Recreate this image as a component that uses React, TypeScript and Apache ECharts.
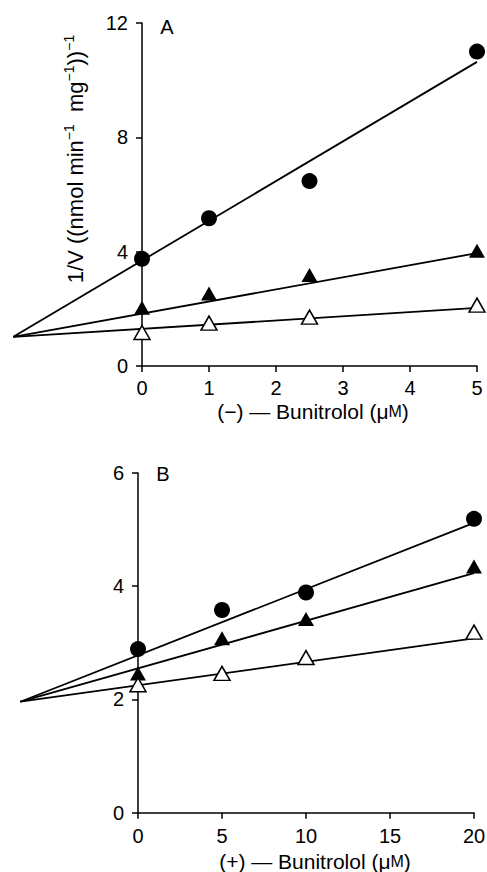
import React, { useEffect, useRef } from "react";
import * as echarts from "echarts";

const FONT = '"Liberation Sans", Arial, Helvetica, sans-serif';

// Panel A: (−)-Bunitrolol
const xA = [0, 1, 2.5, 5];
const aCircles = [3.75, 5.17, 6.47, 11.0];
const aFilledTri = [2.04, 2.54, 3.18, 4.03];
const aOpenTri = [1.17, 1.5, 1.71, 2.13];
const aIntersect = [-1.92, 1.02];
const aLineEnds = [10.64, 3.95, 2.03]; // fitted values at x = 5

// Panel B: (+)-Bunitrolol
const xB = [0, 5, 10, 20];
const bCircles = [2.89, 3.58, 3.89, 5.19];
const bFilledTri = [2.46, 3.08, 3.42, 4.35];
const bOpenTri = [2.26, 2.46, 2.74, 3.19];
const bIntersect = [-7.0, 1.96];
const bLineEnds = [5.12, 4.23, 3.08]; // fitted values at x = 20

const pairs = (xs: number[], ys: number[]) => xs.map((x, i) => [x, ys[i]]);

function buildOption() {
  const black = "#000";
  const xAxis = (gi: number, max: number, interval: number, margin: number) => ({
    gridIndex: gi,
    type: "value",
    min: 0,
    max,
    interval,
    axisLine: { show: true, onZero: false, lineStyle: { color: black, width: 1.5 } },
    splitLine: { show: false },
    axisTick: { show: true, length: 6, lineStyle: { color: black, width: 1.5 } },
    axisLabel: { color: black, fontSize: 20, fontFamily: FONT, margin },
  });
  const yAxis = (gi: number, max: number, interval: number) => ({
    gridIndex: gi,
    type: "value",
    min: 0,
    max,
    interval,
    axisLine: { show: true, onZero: false, lineStyle: { color: black, width: 1.5 } },
    splitLine: { show: false },
    axisTick: { show: true, length: 6, lineStyle: { color: black, width: 1.5 } },
    axisLabel: { color: black, fontSize: 20, fontFamily: FONT, margin: 14 },
  });
  const hiddenX = (gi: number, min: number, max: number) => ({
    gridIndex: gi,
    type: "value",
    min,
    max,
    show: false,
  });
  const hiddenY = (gi: number, max: number) => ({
    gridIndex: gi,
    type: "value",
    min: 0,
    max,
    show: false,
  });

  const series: any[] = [];
  const addPanel = (
    gi: number,
    lineGi: number,
    xs: number[],
    circles: number[],
    filled: number[],
    open: number[],
    inter: number[],
    ends: number[],
    xMax: number
  ) => {
    ends.forEach((e) => {
      series.push({
        type: "line",
        xAxisIndex: lineGi,
        yAxisIndex: lineGi,
        data: [inter, [xMax, e]],
        symbol: "none",
        silent: true,
        clip: false,
        lineStyle: { color: black, width: 1.8, opacity: 1 },
        z: 2,
      });
    });
    series.push({
      type: "scatter",
      xAxisIndex: gi,
      yAxisIndex: gi,
      data: pairs(xs, circles),
      symbol: "circle",
      symbolSize: 16,
      clip: false,
      itemStyle: { color: black, opacity: 1 },
      z: 3,
    });
    series.push({
      type: "scatter",
      xAxisIndex: gi,
      yAxisIndex: gi,
      data: pairs(xs, filled),
      symbol: "triangle",
      symbolSize: [16, 14],
      clip: false,
      itemStyle: { color: black, opacity: 1 },
      z: 3,
    });
    series.push({
      type: "scatter",
      xAxisIndex: gi,
      yAxisIndex: gi,
      data: pairs(xs, open),
      symbol: "triangle",
      symbolSize: [16, 14],
      clip: false,
      itemStyle: { color: "#fff", borderColor: black, borderWidth: 1.5, opacity: 1 },
      z: 3,
    });
  };
  // grids 0,1: visible axes; grids 2,3: hidden wide axes for the fitted lines
  addPanel(0, 2, xA, aCircles, aFilledTri, aOpenTri, aIntersect, aLineEnds, 5);
  addPanel(1, 3, xB, bCircles, bFilledTri, bOpenTri, bIntersect, bLineEnds, 20);

  const richUnits = {
    n: { fontSize: 21, fontFamily: FONT, fill: black },
    sc: { fontSize: 16, fontFamily: FONT, fill: black },
  };

  // pixel scale: A 67 px per unit, B 16.8 px per unit
  const aLeft = 142;
  const aWidth = 335;
  const aWideLeft = aLeft + (aIntersect[0] * aWidth) / 5;
  const bLeft = 138;
  const bWidth = 336;
  const bWideLeft = bLeft + (bIntersect[0] * bWidth) / 20;

  const g = { outerBoundsMode: "none", containLabel: false };

  return {
    animation: false,
    backgroundColor: "#fff",
    grid: [
      { left: aLeft, top: 23, width: aWidth, height: 343, ...g },
      { left: bLeft, top: 473, width: bWidth, height: 339.7, ...g },
      { left: aWideLeft, top: 23, width: aLeft + aWidth - aWideLeft, height: 343, ...g },
      { left: bWideLeft, top: 473, width: bLeft + bWidth - bWideLeft, height: 339.7, ...g },
    ],
    xAxis: [
      xAxis(0, 5, 1, 12),
      xAxis(1, 20, 5, 13),
      hiddenX(2, aIntersect[0], 5),
      hiddenX(3, bIntersect[0], 20),
    ],
    yAxis: [yAxis(0, 12, 4), yAxis(1, 6, 2), hiddenY(2, 12), hiddenY(3, 6)],
    series,
    graphic: [
      {
        type: "text",
        x: 167,
        y: 27,
        style: { text: "A", fontSize: 20, fontFamily: FONT, fill: black, align: "center", verticalAlign: "middle" },
      },
      {
        type: "text",
        x: 163,
        y: 474,
        style: { text: "B", fontSize: 20, fontFamily: FONT, fill: black, align: "center", verticalAlign: "middle" },
      },
      {
        type: "text",
        x: 313,
        y: 411,
        style: {
          text: "{n|(−) — Bunitrolol (μ}{sc|M}{n|)}",
          rich: richUnits,
          fontSize: 21,
          fontFamily: FONT,
          fill: black,
          align: "center",
          verticalAlign: "middle",
        },
      },
      {
        type: "text",
        x: 315,
        y: 861,
        style: {
          text: "{n|(+) — Bunitrolol (μ}{sc|M}{n|)}",
          rich: richUnits,
          fontSize: 21,
          fontFamily: FONT,
          fill: black,
          align: "center",
          verticalAlign: "middle",
        },
      },
      {
        type: "text",
        x: 74,
        y: 159,
        rotation: Math.PI / 2,
        style: {
          text: "{n|1/V ((nmol min}{s|−1}{n|  mg}{s|−1}{n|))}{s|−1}",
          rich: {
            n: { fontSize: 22, fontFamily: FONT, fill: black, verticalAlign: "bottom", lineHeight: 25 },
            s: { fontSize: 14, fontFamily: FONT, fill: black, verticalAlign: "top", lineHeight: 25 },
          },
          fontSize: 22,
          fontFamily: FONT,
          fill: black,
          align: "center",
          verticalAlign: "middle",
        },
      },
    ],
  };
}

export default function App() {
  const ref = useRef<HTMLDivElement>(null);
  useEffect(() => {
    if (!ref.current) return;
    const chart = echarts.init(ref.current, null, { renderer: "svg" });
    chart.setOption(buildOption() as any);
    return () => chart.dispose();
  }, []);
  return (
    <div
      ref={ref}
      style={{ position: "fixed", left: 0, top: 0, width: 487, height: 872, background: "#fff" }}
    />
  );
}
